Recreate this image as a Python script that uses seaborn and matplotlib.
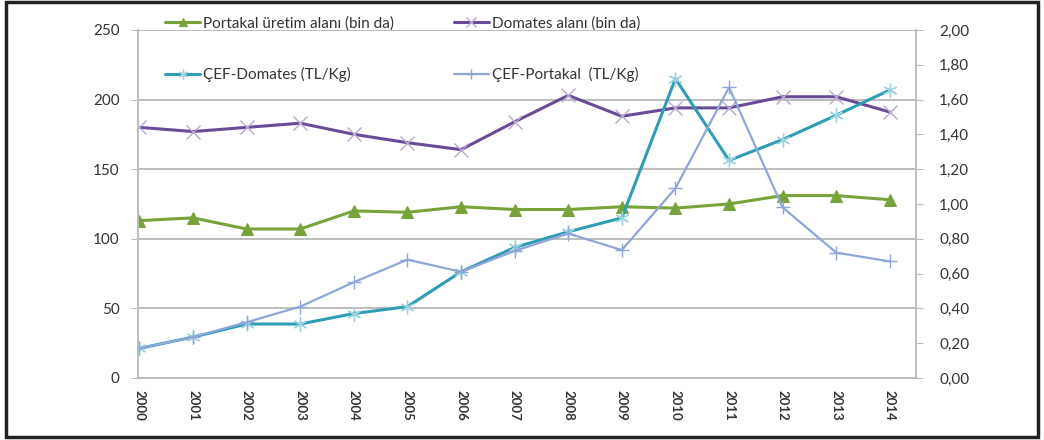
import matplotlib
matplotlib.use("Agg")
import matplotlib.pyplot as plt
import seaborn as sns
import pandas as pd
from matplotlib.patches import Rectangle
from matplotlib.ticker import FuncFormatter, MultipleLocator

years = [str(y) for y in range(2000, 2015)]

# Area series (left axis, thousand decare)
portakal_alan = [113, 115, 107, 107, 120, 119, 123, 121, 121, 123, 122, 125, 131, 131, 128]
domates_alan = [180, 177, 180, 183, 175, 169, 164, 184, 203, 188, 194, 194, 202, 202, 191]

# Price series (right axis, TL/Kg)
cef_domates = [0.17, 0.235, 0.31, 0.31, 0.37, 0.41, 0.61, 0.75, 0.84, 0.92, 1.72, 1.25, 1.37, 1.51, 1.655]
cef_portakal = [0.17, 0.235, 0.32, 0.41, 0.55, 0.68, 0.61, 0.73, 0.83, 0.735, 1.09, 1.67, 0.98, 0.72, 0.67]

lbl_portakal = "Portakal üretim alanı (bin da)"
lbl_domates = "Domates alanı (bin da)"
lbl_cef_dom = "ÇEF-Domates (TL/Kg)"
lbl_cef_por = "ÇEF-Portakal  (TL/Kg)"

c_green = "#78a23a"
c_purple = "#6a4b97"
c_teal = "#2f9db3"
c_lblue = "#8fa7d8"

sns.set_style("white")
plt.rcParams["font.family"] = ["Lato", "DejaVu Sans"]

df = pd.DataFrame({
    "x": range(len(years)),
    "portakal": portakal_alan,
    "domates": domates_alan,
    "cef_dom": cef_domates,
    "cef_por": cef_portakal,
})

fig = plt.figure(figsize=(10.44, 4.4), dpi=100)
ax = fig.add_axes([0.132, 0.141, 0.745, 0.791])
ax2 = ax.twinx()

sns.lineplot(data=df, x="x", y="portakal", ax=ax, color=c_green, lw=2.2,
             marker="^", markersize=8, markeredgecolor=c_green, label=lbl_portakal, legend=False)
sns.lineplot(data=df, x="x", y="domates", ax=ax, color=c_purple, lw=2.2,
             marker="x", markersize=10, markeredgewidth=1.0, markeredgecolor="#b9a9cf",
             label=lbl_domates, legend=False)
sns.lineplot(data=df, x="x", y="cef_dom", ax=ax2, color=c_teal, lw=2.2,
             marker=(6, 2, 0), markersize=10, markeredgewidth=1.0, markeredgecolor="#9fd3df",
             label=lbl_cef_dom, legend=False)
sns.lineplot(data=df, x="x", y="cef_por", ax=ax2, color=c_lblue, lw=1.6,
             marker="+", markersize=10, markeredgewidth=1.0, markeredgecolor=c_lblue,
             label=lbl_cef_por, legend=False)

ax.set_xlim(-0.03, 14.48)
ax.set_ylim(0, 250)
ax2.set_ylim(0, 2.0)
ax.yaxis.set_major_locator(MultipleLocator(50))
ax2.yaxis.set_major_locator(MultipleLocator(0.2))
ax2.yaxis.set_major_formatter(FuncFormatter(lambda v, p: f"{v:.2f}".replace(".", ",")))

ax.set_xticks(range(len(years)))
ax.set_xticklabels(years, rotation=-90, fontsize=9.5, color="#333333", fontweight="bold")
ax.set_xlabel("")
ax.set_ylabel("")
ax2.set_ylabel("")

ax.grid(axis="y", color="#bdbdbd", lw=1.4)
ax.set_axisbelow(True)
for a in (ax, ax2):
    a.spines["top"].set_visible(False)
    for s in ("left", "right", "bottom"):
        a.spines[s].set_color("#bdbdbd")
        a.spines[s].set_linewidth(1.4)
ax.spines["right"].set_visible(False)
ax2.spines["left"].set_visible(False)

ax.tick_params(axis="y", labelsize=11, colors="#333333", length=5, color="#bdbdbd", pad=8)
ax.tick_params(axis="x", length=5, color="#bdbdbd", pad=4)
ax2.tick_params(axis="y", labelsize=11, colors="#333333", length=5, color="#bdbdbd", pad=12)
for t in ax.get_yticklabels() + ax2.get_yticklabels():
    t.set_color("#333333")

h1, l1 = ax.get_legend_handles_labels()
h2, l2 = ax2.get_legend_handles_labels()
handles = [h1[0], h2[0], h1[1], h2[1]]
labels = [l1[0], l2[0], l1[1], l2[1]]
leg = fig.legend(handles, labels, ncol=2, frameon=False, loc="upper left",
                 bbox_to_anchor=(0.145, 0.995), fontsize=11, labelspacing=2.4,
                 columnspacing=3.9, handlelength=2.3, handletextpad=0.2,
                 labelcolor="#333333", markerscale=0.7)

fig.add_artist(Rectangle((0.006, 0.007), 0.988, 0.988, transform=fig.transFigure,
                         fill=False, edgecolor="#222222", lw=2.5))

fig.savefig("out.png", dpi=100)
